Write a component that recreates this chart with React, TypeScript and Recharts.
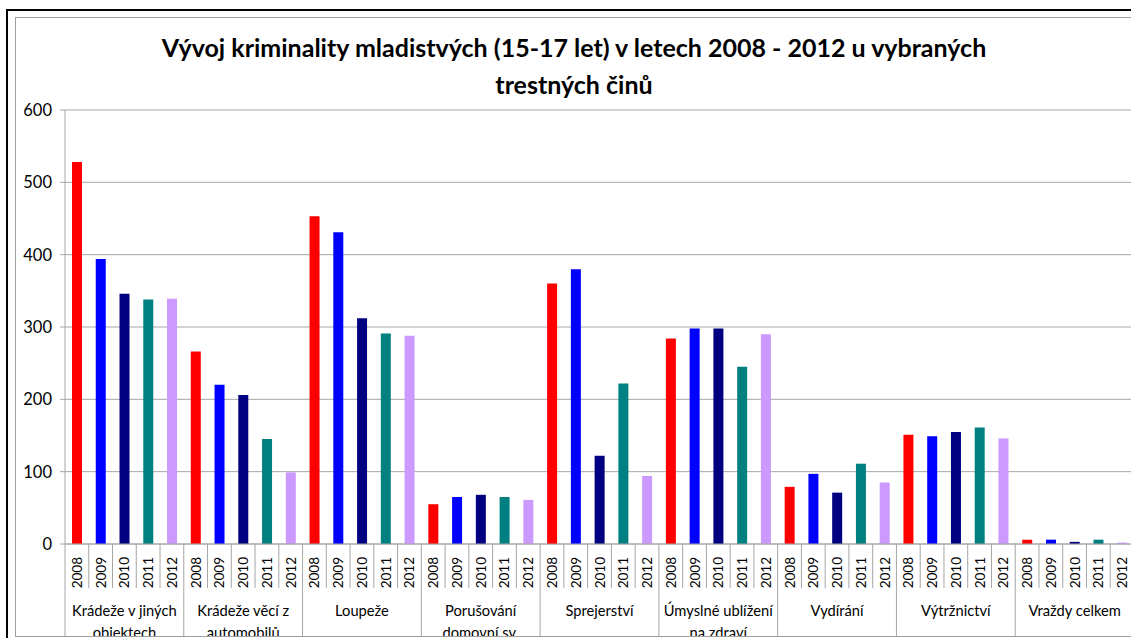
import React from "react";
import { BarChart, Bar, Cell, XAxis, YAxis, CartesianGrid } from "recharts";

const years = ["2008", "2009", "2010", "2011", "2012"];
const yearColors = ["#FF0000", "#0000FF", "#000080", "#008080", "#CC99FF"];

const groups = [
  ["Krádeže v jiných", "objektech"],
  ["Krádeže věcí z", "automobilů"],
  ["Loupeže"],
  ["Porušování", "domovní sv."],
  ["Sprejerství"],
  ["Úmyslné ublížení", "na zdraví"],
  ["Vydírání"],
  ["Výtržnictví"],
  ["Vraždy celkem"],
];

const v2008 = [528, 266, 453, 55, 360, 284, 79, 151, 6];
const v2009 = [394, 220, 431, 65, 380, 298, 97, 149, 6];
const v2010 = [346, 206, 312, 68, 122, 298, 71, 155, 3];
const v2011 = [338, 145, 291, 65, 222, 245, 111, 161, 6];
const v2012 = [339, 99, 288, 61, 94, 290, 85, 146, 2];

const yTicks = [0, 100, 200, 300, 400, 500, 600];

const byYear = [v2008, v2009, v2010, v2011, v2012];
const data = groups.flatMap((g, gi) =>
  years.map((yr, yi) => ({
    key: `${gi}-${yr}`,
    year: yr,
    yearIdx: yi,
    group: gi,
    value: byYear[yi][gi],
  }))
);

// chart geometry
const W = 1140;
const H = 640;
const M = { top: 110, right: 6, bottom: 0, left: 0 };
const Y_W = 65;
const X_H = 96;
const AXIS_Y = H - M.bottom - X_H;
const BAND = (W - M.left - M.right - Y_W) / data.length;
const SEP = "#a6a6a6";
const FONT = "Lato, 'Open Sans', sans-serif";

const XTick = (props: any) => {
  const { x, index } = props;
  const row = data[index];
  if (!row) return null;
  const left = x - BAND / 2;
  const first = row.yearIdx === 0;
  const lines = groups[row.group];
  return (
    <g>
      <line x1={left} y1={AXIS_Y} x2={left} y2={first ? H : AXIS_Y + 44} stroke={SEP} strokeWidth={1} />
      <text
        x={x + 5}
        y={AXIS_Y + 13}
        transform={`rotate(-90 ${x + 5} ${AXIS_Y + 13})`}
        textAnchor="end"
        fontSize={13.5}
        fontFamily={FONT}
        fill="#000"
      >
        {row.year}
      </text>
      {row.yearIdx === 2 &&
        lines.map((ln, li) => (
          <text
            key={li}
            x={x}
            y={AXIS_Y + 72 + li * 22}
            textAnchor="middle"
            fontSize={14.7}
            fontFamily={FONT}
            fill="#000"
          >
            {ln}
          </text>
        ))}
    </g>
  );
};

export default function App() {
  return (
    <div
      style={{
        position: "absolute",
        left: 0,
        top: 0,
        width: 1131,
        height: 638,
        overflow: "hidden",
        background: "#fff",
      }}
    >
      <div
        style={{
          position: "absolute",
          left: 6,
          top: 9,
          width: 1300,
          height: 800,
          border: "2px solid #000",
        }}
      />
      <div
        style={{
          position: "absolute",
          left: 15,
          top: 17,
          width: 1300,
          height: 618,
          border: "1px solid #a0a0a0",
          overflow: "hidden",
        }}
      >
        <div style={{ position: "absolute", left: -16, top: -18 }}>
          <div
            style={{
              position: "absolute",
              left: 0,
              top: 29,
              width: 1148,
              textAlign: "center",
              fontFamily: FONT,
              fontWeight: 700,
              fontSize: 25,
              lineHeight: "37px",
              color: "#000",
            }}
          >
            Vývoj kriminality mladistvých (15-17 let) v letech 2008 - 2012 u vybraných
            <br />
            trestných činů
          </div>
          <BarChart width={W} height={H} data={data} margin={M} barSize={10}>
            <CartesianGrid vertical={false} stroke="#a6a6a6" />
            <XAxis
              dataKey="key"
              height={X_H}
              interval={0}
              tickLine={false}
              tickSize={0}
              tickMargin={0}
              axisLine={{ stroke: "#a6a6a6" }}
              tick={<XTick />}
            />
            <YAxis
              width={Y_W}
              domain={[0, 600]}
              ticks={yTicks}
              interval={0}
              tickSize={5}
              tickMargin={8}
              axisLine={{ stroke: "#a6a6a6" }}
              tickLine={{ stroke: "#a6a6a6" }}
              tick={{ fill: "#000", fontSize: 16.5, fontFamily: FONT }}
            />
            <Bar dataKey="value" isAnimationActive={false}>
              {data.map((d) => (
                <Cell key={d.key} fill={yearColors[d.yearIdx]} />
              ))}
            </Bar>
          </BarChart>
        </div>
      </div>
    </div>
  );
}
